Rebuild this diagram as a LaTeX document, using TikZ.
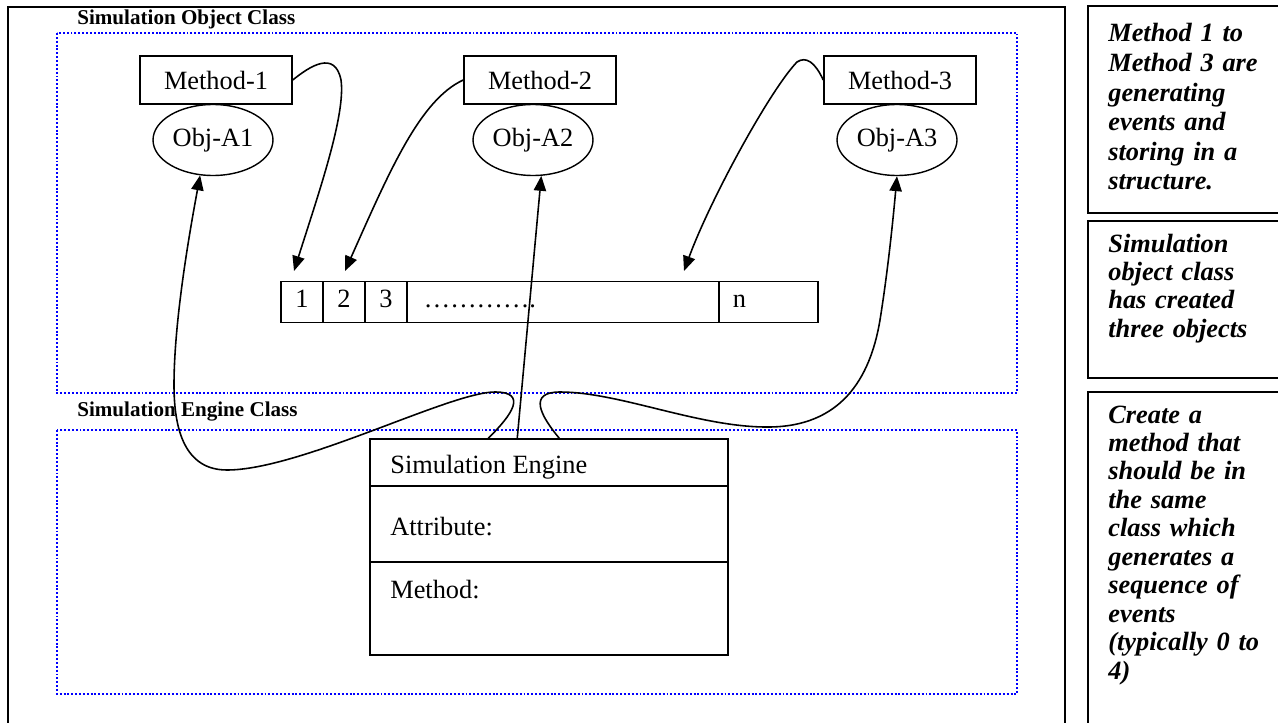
\documentclass[tikz,border=0pt]{standalone}
\usepackage{fontspec}
\setmainfont{Liberation Serif}
\usetikzlibrary{arrows.meta, positioning, shapes.geometric, calc}

\begin{document}
\begin{tikzpicture}[x=0.02cm, y=-0.02cm,
    methodbox/.style={draw, line width=0.9pt, minimum width=3.04cm, minimum height=0.96cm, inner sep=0pt, font=\fontsize{15}{18}\selectfont},
    objnode/.style={draw, ellipse, line width=0.8pt, minimum width=2.4cm, minimum height=1.42cm, inner sep=0pt, font=\fontsize{15}{18}\selectfont},
    cell/.style={draw, line width=0.9pt, minimum width=0.84cm, minimum height=0.82cm, inner sep=0pt, outer sep=0pt, text height=9pt, text depth=2.7pt, font=\fontsize{15}{18}\selectfont},
    classarea/.style={blue, line width=1.1pt, dash pattern=on 1.1pt off 1.1pt},
    classlabel/.style={anchor=base west, inner sep=0pt, font=\fontsize{12}{14}\selectfont\bfseries},
    notebox/.style={draw, line width=1.2pt},
    note/.style={anchor=base west, inner sep=0pt, text width=5cm, align=left, font=\fontsize{15}{16.2}\selectfont\bfseries\itshape},
    link/.style={line width=0.9pt, -{Triangle[length=8.5pt, width=7pt]}}]
    \useasboundingbox (0,0) rectangle (1278,723);
    \clip (0,0) rectangle (1278,723);

    % frames
    \draw[line width=1.4pt] (8,7) rectangle (1065,760);
    \draw[classarea] (57,33) rectangle (1017,393);
    \draw[classarea] (57,430) rectangle (1017,694);
    \node[classlabel] (objlabel) at (77,25) {Simulation Object Class};
    \node[classlabel] (englabel) at (77,416) {Simulation Engine Class};

    % objects
    \node[methodbox] (m1) at (216,80) {Method-1};
    \node[objnode] (a1) at (213,140) {Obj-A1};
    \node[methodbox] (m2) at (540,80) {Method-2};
    \node[objnode] (a2) at (533,140) {Obj-A2};
    \node[methodbox] (m3) at (900,80) {Method-3};
    \node[objnode] (a3) at (897,140) {Obj-A3};

    % event structure
    \node[cell, anchor=west] (c1) at (281,302) {1};
    \node[cell, right=0pt of c1] (c2) {2};
    \node[cell, right=0pt of c2] (c3) {3};
    \node[cell, right=0pt of c3, minimum width=6.24cm, text width=5.56cm, inner xsep=0.34cm, align=left] (c4) {………….};
    \node[cell, right=0pt of c4, minimum width=1.98cm, text width=1.42cm, inner xsep=0.28cm, align=left] (c5) {n};
    \coordinate (t1) at (294,271);
    \coordinate (t2) at (345,271);
    \coordinate (t3) at (684,271);

    % engine
    \node[draw, line width=0.9pt, minimum width=7.16cm, minimum height=4.32cm, inner sep=0pt] (engine) at (549,547) {};
    \draw[line width=0.9pt] ($(engine.north west)+(0,48)$) -- ($(engine.north east)+(0,48)$);
    \draw[line width=0.9pt] ($(engine.north west)+(0,124)$) -- ($(engine.north east)+(0,124)$);
    \node[anchor=base west, inner sep=0pt, font=\fontsize{15}{18}\selectfont] (ename) at (390,473) {Simulation Engine};
    \node[anchor=base west, inner sep=0pt, font=\fontsize{15}{18}\selectfont] (eattr) at (390,535) {Attribute:};
    \node[anchor=base west, inner sep=0pt, font=\fontsize{15}{18}\selectfont] (emeth) at (390,598) {Method:};

    % methods to structure
    \draw[link] (m1.east) .. controls (310,66) and (335,50) .. (341,80) .. controls (346,115) and (318,195) .. (t1);
    \draw[link] (m2.west) .. controls (420,100) and (390,170) .. (t2);
    \draw[link] (m3.west) .. controls (815,62) and (806,56) .. (797,62) .. controls (770,90) and (710,200) .. (t3);

    % engine to objects
    \draw[link] ($(engine.north west)+(119,0)$) .. controls (512,415) and (528,392) .. (495,392)
        .. controls (450,392) and (300,470) .. (227,470)
        .. controls (185,470) and (174,430) .. (174,385)
        .. controls (174,320) and (190,230) .. (a1.-110);
    \draw[link] ($(engine.north west)+(148,0)$) -- (a2.-77);
    \draw[link] ($(engine.north west)+(190,0)$) .. controls (540,415) and (528,392) .. (560,392)
        .. controls (620,392) and (700,428) .. (770,427)
        .. controls (840,426) and (870,380) .. (880,320)
        .. controls (888,270) and (893,220) .. (a3.south);

    % notes
    \draw[notebox] (1088,6) rectangle (1300,213);
    \draw[notebox] (1088,221) rectangle (1300,378);
    \draw[notebox] (1088,392) rectangle (1300,760);
    \node[note, font=\fontsize{15}{16.8}\selectfont\bfseries\itshape] (note1) at (1108,42) {Method 1 to\\ Method 3 are\\ generating\\ events and\\ storing in a\\ structure.};
    \node[note] (note2) at (1108,252) {Simulation\\ object class\\ has created\\ three objects};
    \node[note] (note3) at (1108,423) {Create a\\ method that\\ should be in\\ the same\\ class which\\ generates a\\ sequence of\\ events\\ (typically 0 to\\ 4)};
\end{tikzpicture}
\end{document}
